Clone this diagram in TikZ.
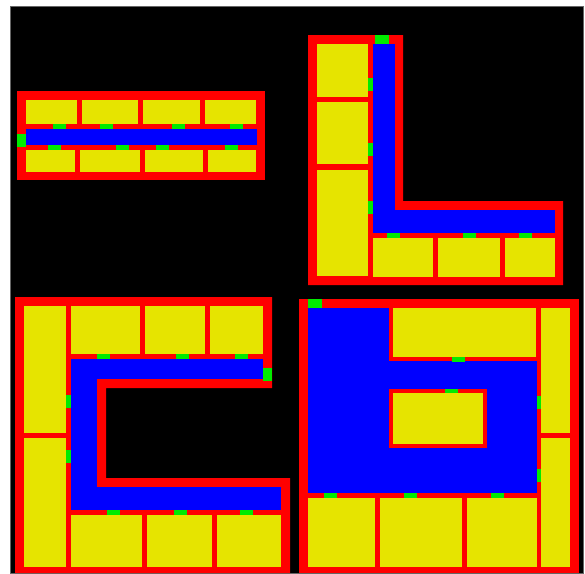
\documentclass[tikz,border=0pt]{standalone}
\usepackage{tikz}
\definecolor{wallred}{RGB}{255, 0, 0}
\definecolor{roomyellow}{RGB}{230, 228, 0}
\definecolor{hallblue}{RGB}{0, 0, 255}
\definecolor{doorgreen}{RGB}{0, 235, 0}

\begin{document}
\begin{tikzpicture}[
  x=1pt, y=-1pt,
  wall/.style={fill=wallred},
  room/.style={fill=roomyellow},
  hall/.style={fill=hallblue},
  door/.style={fill=doorgreen}
]
  \useasboundingbox (0,0) rectangle (585,573);
  \fill[white] (0,0) rectangle (585,573);
  \filldraw[fill=black, draw=black!60, line width=0.6pt] (10,6) rectangle (583,573);

  % straight corridor
  \fill[wall] (17,91) rectangle (265,180);
  \fill[hall] (26,129) rectangle (257,145);
  \foreach \a/\b in {26/77, 82/138, 143/200, 205/256}
    \fill[room] (\a,100) rectangle (\b,124);
  \foreach \a/\b in {26/75, 80/140, 145/203, 208/256}
    \fill[room] (\a,150) rectangle (\b,172);
  \fill[door] (17,134) rectangle (26,147);
  \foreach \a in {53, 100, 172, 230}
    \fill[door] (\a,124) rectangle ++(13,5);
  \foreach \a in {48, 116, 156, 225}
    \fill[door] (\a,145) rectangle ++(13,5);

  % L corridor
  \fill[wall] (308,35) -- (403,35) -- (403,201) -- (563,201)
    -- (563,285) -- (308,285) -- cycle;
  \fill[hall] (373,44) rectangle (395,233);
  \fill[hall] (373,210) rectangle (555,233);
  \foreach \a/\b in {44/97, 102/164, 170/276}
    \fill[room] (317,\a) rectangle (368,\b);
  \foreach \a/\b in {373/433, 438/500, 505/555}
    \fill[room] (\a,238) rectangle (\b,277);
  \fill[door] (375,35) rectangle (389,44);
  \foreach \a in {78, 143, 201}
    \fill[door] (368,\a) rectangle ++(5,13);
  \foreach \a in {387, 463, 519}
    \fill[door] (\a,233) rectangle ++(13,5);

  % C corridor
  \fill[wall] (15,297) -- (272,297) -- (272,388) -- (106,388) -- (106,478)
    -- (290,478) -- (290,573) -- (15,573) -- cycle;
  \fill[hall] (71,359) rectangle (263,379);
  \fill[hall] (71,359) rectangle (97,510);
  \fill[hall] (71,487) rectangle (281,510);
  \foreach \a/\b in {306/433, 438/567}
    \fill[room] (24,\a) rectangle (66,\b);
  \foreach \a/\b in {71/140, 145/205, 210/263}
    \fill[room] (\a,306) rectangle (\b,354);
  \foreach \a/\b in {71/142, 147/212, 217/281}
    \fill[room] (\a,515) rectangle (\b,567);
  \fill[door] (263,368) rectangle (272,381);
  \foreach \a in {97, 176, 235}
    \fill[door] (\a,354) rectangle ++(13,5);
  \foreach \a in {395, 450}
    \fill[door] (66,\a) rectangle ++(5,13);
  \foreach \a in {107, 174, 240}
    \fill[door] (\a,510) rectangle ++(13,5);

  % hall with inner room
  \fill[wall] (299,299) rectangle (579,573);
  \fill[hall] (308,308) rectangle (537,493);
  \fill[wall] (389,299) rectangle (541,361);
  \fill[room] (393,308) rectangle (536,357);
  \fill[wall] (389,389) rectangle (487,448);
  \fill[room] (393,393) rectangle (483,444);
  \foreach \a/\b in {308/433, 438/567}
    \fill[room] (541,\a) rectangle (570,\b);
  \foreach \a/\b in {308/375, 380/462, 467/537}
    \fill[room] (\a,498) rectangle (\b,567);
  \fill[door] (308,299) rectangle (322,308);
  \fill[door] (452,357) rectangle (465,362);
  \fill[door] (445,389) rectangle (458,393);
  \foreach \a in {396, 469}
    \fill[door] (537,\a) rectangle ++(4,13);
  \foreach \a in {324, 404, 491}
    \fill[door] (\a,493) rectangle ++(13,5);
\end{tikzpicture}
\end{document}
